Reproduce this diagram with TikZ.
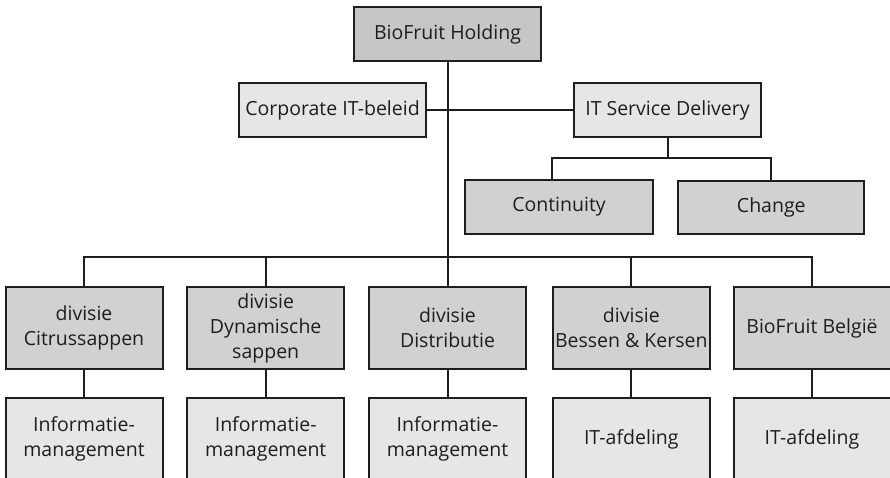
\documentclass[tikz,border=0pt]{standalone}
\usepackage{fontspec}
\setmainfont{Open Sans}
\definecolor{holdgray}{HTML}{C6C6C8}
\definecolor{darkgray}{HTML}{D1D1D3}
\definecolor{lightgray}{HTML}{E5E6E8}
\definecolor{linecol}{HTML}{1E1E1E}
\tikzset{
  box/.style={draw=linecol, line width=2pt, inner sep=0pt, align=center,
    font=\fontsize{19.5}{25}\selectfont, text=linecol},
  wide/.style={box, minimum width=187pt, minimum height=54pt},
  divbox/.style={box, minimum width=157pt, minimum height=82pt},
  conn/.style={draw=linecol, line width=2pt},
}
\begin{document}
\begin{tikzpicture}[x=1pt,y=-1pt]
\useasboundingbox (0,0) rectangle (890,478);
\clip (0,0) rectangle (890,478);
\fill[white] (0,0) rectangle (890,478);
\node[wide, fill=holdgray] (hold) at (447.5,34) {BioFruit Holding};
\node[wide, fill=lightgray] (corp) at (332.5,110.3) {Corporate IT-beleid};
\node[wide, fill=lightgray] (isd) at (667.5,110.3) {IT Service Delivery};
\node[wide, fill=darkgray, minimum width=188pt, minimum height=53pt] (cont) at (559,207) {Continuity};
\node[wide, fill=darkgray, minimum width=186pt, minimum height=53pt] (chg) at (771.3,207.3) {Change};
\node[divbox, fill=darkgray] (d1) at (84,328) {divisie\\Citrussappen};
\node[divbox, fill=darkgray] (d2) at (265.7,328) {divisie\\Dynamische\\sappen};
\node[divbox, fill=darkgray] (d3) at (447.5,328) {divisie\\Distributie};
\node[divbox, fill=darkgray] (d4) at (631.3,328) {divisie\\Bessen \& Kersen};
\node[divbox, fill=darkgray] (d5) at (812,328) {BioFruit België};
\node[divbox, fill=lightgray] (i1) at (84,439) {Informatie-\\management};
\node[divbox, fill=lightgray] (i2) at (265.7,439) {Informatie-\\management};
\node[divbox, fill=lightgray] (i3) at (447.5,439) {Informatie-\\management};
\node[divbox, fill=lightgray] (i4) at (631.3,439) {IT-afdeling};
\node[divbox, fill=lightgray] (i5) at (812,439) {IT-afdeling};
\coordinate (sbus) at (0,158.3);
\coordinate (dbus) at (0,257.3);
\draw[conn] (hold.south) -- (d3.north);
\draw[conn] (corp.east) -- (isd.west);
\draw[conn] (isd.south) -- (isd.south |- sbus) -| ([xshift=-7pt]cont.north);
\draw[conn] (isd.south |- sbus) -| (chg.north);
\draw[conn] (d1.north) |- (dbus -| d5.north) -- (d5.north);
\draw[conn] (d2.north) -- (d2.north |- dbus);
\draw[conn] (d4.north) -- (d4.north |- dbus);
\foreach \k in {1,...,5} { \draw[conn] (d\k.south) -- (i\k.north); }
\end{tikzpicture}
\end{document}
